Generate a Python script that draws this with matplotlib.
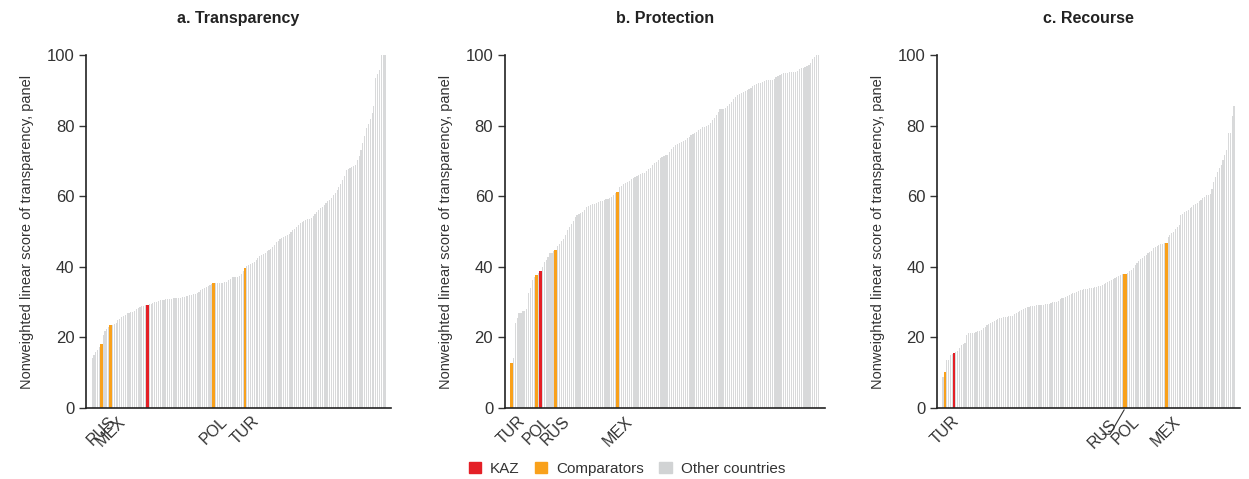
import matplotlib
matplotlib.use('Agg')
import numpy as np
import matplotlib.pyplot as plt
from matplotlib.patches import Patch

plt.rcParams['font.family'] = ['Liberation Sans', 'DejaVu Sans']

# scores sorted ascending, one value per economy
transparency_scores = [
    14.1, 15.0, 15.8, 16.5, 17.2, 18.1, 20.7, 21.8, 22.4, 23.0,
    23.5, 23.6, 23.8, 24.2, 24.8, 25.2, 25.7, 26.0, 26.4, 26.8,
    27.0, 27.2, 27.3, 27.6, 28.0, 28.4, 28.6, 28.8, 29.0, 29.1,
    29.2, 29.4, 29.6, 29.8, 30.0, 30.1, 30.3, 30.5, 30.6, 30.7,
    30.8, 30.9, 31.0, 31.0, 31.1, 31.1, 31.2, 31.2, 31.3, 31.4,
    31.5, 31.6, 31.7, 31.9, 32.0, 32.2, 32.4, 32.7, 33.0, 33.3,
    33.6, 33.9, 34.2, 34.5, 34.8, 35.1, 35.3, 35.3, 35.3, 35.3,
    35.4, 35.4, 35.6, 35.8, 36.2, 36.6, 37.0, 37.0, 37.1, 37.2,
    37.4, 38.0, 38.8, 39.7, 40.1, 40.4, 40.8, 41.2, 41.5, 42.0,
    42.6, 43.0, 43.3, 43.6, 44.0, 44.4, 44.7, 45.0, 45.6, 46.3,
    46.9, 47.4, 47.9, 48.2, 48.5, 48.8, 49.0, 49.3, 49.8, 50.3,
    50.8, 51.3, 51.9, 52.5, 52.8, 53.0, 53.2, 53.4, 53.5, 53.9,
    54.4, 55.0, 55.6, 56.1, 56.6, 57.0, 57.5, 58.0, 58.5, 58.9,
    59.5, 60.2, 61.0, 61.8, 62.7, 63.5, 64.5, 65.8, 67.4, 67.8,
    68.0, 68.3, 68.6, 68.8, 70.2, 71.5, 73.1, 75.0, 77.0, 79.2,
    80.5, 82.0, 83.5, 85.5, 93.4, 94.5, 95.8, 100.0, 100.0, 100.0,
]

protection_scores = [
    12.8, 14.1, 24.2, 25.5, 26.8, 27.0, 27.4, 27.6, 28.0, 32.5,
    33.9, 36.3, 37.0, 37.7, 38.2, 38.8, 40.0, 41.3, 42.0, 42.9,
    43.8, 44.0, 44.4, 44.8, 45.8, 46.6, 47.2, 47.8, 49.0, 50.4,
    51.2, 52.1, 53.0, 54.0, 54.7, 55.0, 55.3, 55.6, 56.2, 56.8,
    57.3, 57.5, 57.7, 57.8, 58.0, 58.3, 58.5, 58.7, 58.9, 59.1,
    59.3, 59.5, 59.8, 60.3, 60.8, 61.1, 62.5, 63.0, 63.4, 63.8,
    64.1, 64.4, 64.8, 65.1, 65.4, 65.7, 66.0, 66.2, 66.5, 66.7,
    67.2, 67.6, 68.1, 68.7, 69.3, 69.8, 70.3, 70.8, 71.2, 71.4,
    71.6, 71.7, 72.6, 73.4, 74.0, 74.4, 74.7, 75.0, 75.3, 75.6,
    75.9, 76.4, 76.9, 77.3, 77.6, 78.0, 78.3, 78.7, 79.1, 79.5,
    79.7, 80.0, 80.2, 80.8, 81.5, 82.1, 82.9, 83.8, 84.6, 84.7,
    84.8, 84.9, 85.5, 86.2, 86.8, 87.4, 88.1, 88.7, 89.0, 89.3,
    89.6, 89.8, 90.1, 90.3, 90.7, 91.1, 91.5, 91.7, 92.0, 92.2,
    92.4, 92.7, 92.9, 92.9, 92.9, 92.9, 93.3, 93.7, 94.1, 94.3,
    94.6, 94.8, 94.9, 95.0, 95.1, 95.1, 95.1, 95.1, 95.5, 95.9,
    96.2, 96.4, 96.7, 96.9, 97.2, 97.6, 98.8, 99.5, 100.0, 100.0,
]

recourse_scores = [
    8.9, 10.3, 13.6, 13.6, 15.0, 15.2, 15.7, 16.0, 16.2, 16.9,
    17.8, 18.2, 18.5, 20.8, 21.2, 21.2, 21.3, 21.3, 21.5, 21.7,
    21.8, 22.2, 22.6, 23.0, 23.4, 23.8, 24.2, 24.4, 24.7, 24.9,
    25.1, 25.4, 25.6, 25.7, 25.8, 25.9, 26.0, 26.1, 26.2, 26.6,
    27.0, 27.3, 27.5, 27.8, 28.0, 28.2, 28.5, 28.7, 28.8, 28.9,
    29.0, 29.1, 29.1, 29.2, 29.3, 29.3, 29.4, 29.5, 29.6, 29.8,
    29.9, 30.0, 30.1, 30.4, 30.8, 31.1, 31.3, 31.5, 31.7, 32.0,
    32.2, 32.5, 32.7, 33.0, 33.2, 33.4, 33.5, 33.6, 33.7, 33.8,
    33.9, 34.0, 34.1, 34.2, 34.3, 34.5, 34.6, 34.8, 35.0, 35.3,
    35.6, 36.0, 36.3, 36.6, 36.9, 37.2, 37.5, 37.8, 38.0, 38.1,
    38.1, 38.3, 38.7, 39.1, 39.8, 40.5, 41.1, 41.7, 42.2, 42.6,
    43.1, 43.4, 43.8, 44.1, 44.6, 45.2, 45.7, 46.0, 46.3, 46.5,
    46.6, 46.7, 46.8, 48.5, 49.0, 49.5, 50.0, 50.6, 51.2, 51.8,
    54.8, 55.0, 55.4, 55.8, 56.1, 56.6, 57.0, 57.5, 57.8, 58.2,
    58.5, 59.0, 59.5, 59.9, 60.2, 60.4, 60.6, 62.0, 64.1, 65.5,
    66.9, 68.0, 68.8, 70.3, 71.7, 73.1, 77.8, 77.8, 82.6, 85.6,
]

# rank of Kazakhstan and of the comparator economies in each sorted list
transparency_kaz = 30
transparency_comp = {'RUS': 5, 'MEX': 10, 'POL': 66, 'TUR': 83}
protection_kaz = 15
protection_comp = {'TUR': 0, 'POL': 13, 'RUS': 23, 'MEX': 55}
recourse_kaz = 6
recourse_comp = {'TUR': 1, 'RUS': 99, 'POL': 100, 'MEX': 122}

titles = ['a. Transparency', 'b. Protection', 'c. Recourse']
ylabel = 'Nonweighted linear score of transparency, panel'

RED = '#e41f26'
ORANGE = '#f9a11b'
GRAY = '#d1d3d4'
BAR_GRAY = '#d8d9da'
TEXT = '#333333'


def draw_panel(ax, scores, kaz, comp, title, offset_labels=()):
    x = np.arange(len(scores))
    ax.bar(x, scores, width=0.6, color=BAR_GRAY, linewidth=0)
    for code, i in comp.items():
        ax.bar(i, scores[i], width=1.4, color=ORANGE, linewidth=0)
    ax.bar(kaz, scores[kaz], width=1.4, color=RED, linewidth=0)

    ax.set_xlim(-3.3, len(scores) - 1 + 3.3)
    ax.set_ylim(0, 100)
    ax.set_yticks([0, 20, 40, 60, 80, 100])
    ax.set_ylabel(ylabel, fontsize=10.5, color=TEXT, labelpad=9)
    ax.set_title(title, fontsize=11.5, fontweight='bold', pad=23, color='#222222')

    ticks = [(i, code) for code, i in comp.items() if code not in offset_labels]
    ax.set_xticks([t[0] for t in ticks])
    ax.set_xticklabels([t[1] for t in ticks], rotation=45, ha='center')
    # labels pushed aside with a short leader line to their bar
    for code in offset_labels:
        ax.annotate(code, xy=(comp[code], -0.5), xycoords='data',
                    xytext=(-7, -9), textcoords='offset points',
                    rotation=45, ha='right', va='center', rotation_mode='anchor',
                    fontsize=11.5, color=TEXT, annotation_clip=False,
                    arrowprops=dict(arrowstyle='-', color=TEXT, lw=0.8, patchA=None,
                                    shrinkA=0, shrinkB=0,
                                    connectionstyle='angle,angleA=0,angleB=60,rad=0'))

    ax.tick_params(axis='x', length=0, pad=4, labelsize=11.5, labelcolor=TEXT)
    ax.tick_params(axis='y', length=5, width=1, labelsize=12, labelcolor=TEXT, color=TEXT)
    for side in ['top', 'right']:
        ax.spines[side].set_visible(False)
    for side in ['left', 'bottom']:
        ax.spines[side].set_linewidth(1.2)
        ax.spines[side].set_color('#222222')


fig = plt.figure(figsize=(12.49, 4.79), dpi=100)
ax_a = fig.add_axes([0.0689, 0.1482, 0.2442, 0.737])
ax_b = fig.add_axes([0.4043, 0.1482, 0.2562, 0.737])
ax_c = fig.add_axes([0.7502, 0.1482, 0.2426, 0.737])

draw_panel(ax_a, transparency_scores, transparency_kaz, transparency_comp, titles[0])
draw_panel(ax_b, protection_scores, protection_kaz, protection_comp, titles[1])
draw_panel(ax_c, recourse_scores, recourse_kaz, recourse_comp, titles[2], offset_labels=('RUS',))

handles = [Patch(color=RED, label='KAZ'),
           Patch(color=ORANGE, label='Comparators'),
           Patch(color=GRAY, label='Other countries')]
leg = fig.legend(handles=handles, loc='lower center', bbox_to_anchor=(0.502, -0.022), ncol=3,
                 frameon=False, fontsize=11, handlelength=0.8, handleheight=0.8,
                 handletextpad=0.6, columnspacing=1.0)
for t in leg.get_texts():
    t.set_color(TEXT)

fig.savefig('out.png', dpi=100)
